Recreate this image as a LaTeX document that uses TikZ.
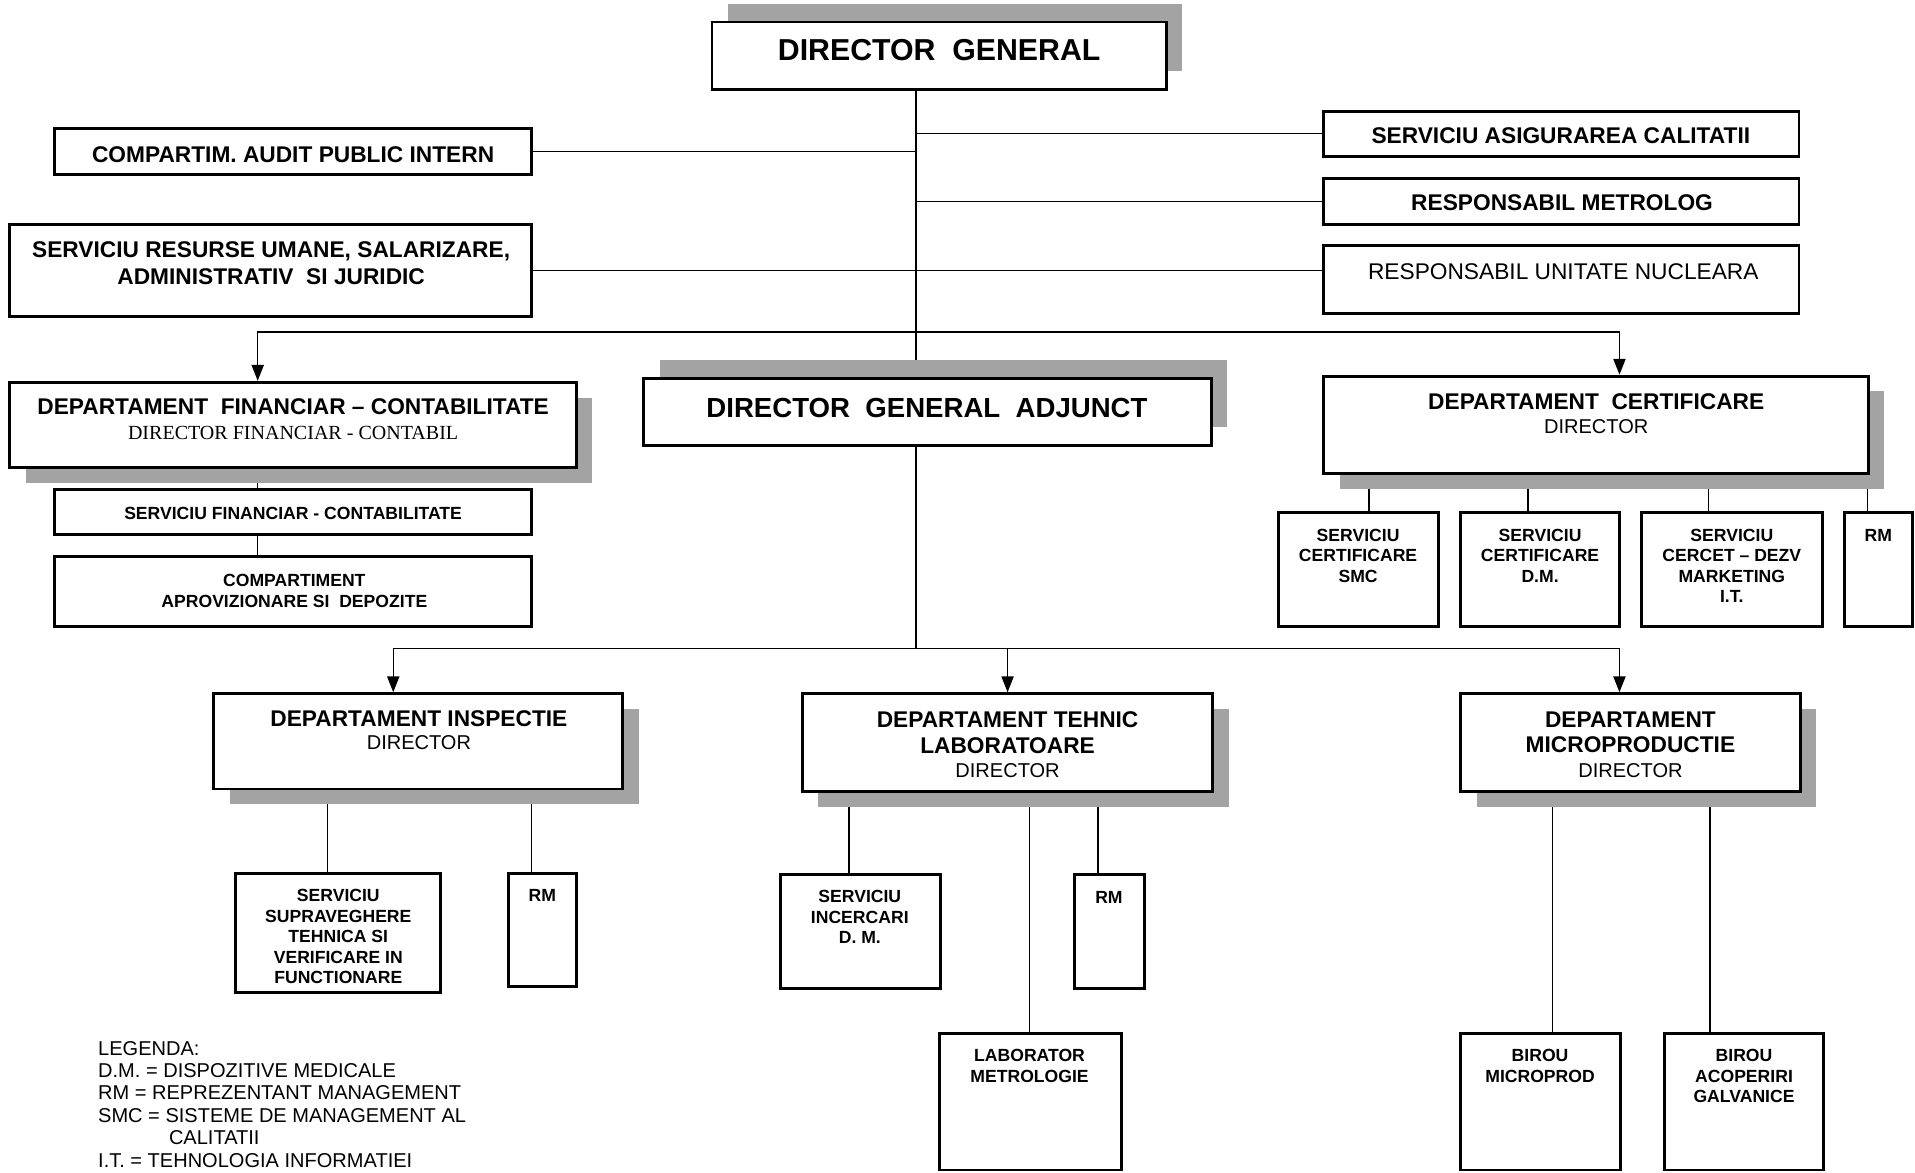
\documentclass[tikz,border=0pt]{standalone}
\usepackage{fontspec}
\newfontfamily\arialf{Liberation Sans}
\newfontfamily\timesf{Liberation Serif}
\usetikzlibrary{arrows.meta,fit,shadows,backgrounds}
\definecolor{shadowgray}{RGB}{163,163,163}
\begin{document}
\begin{tikzpicture}[x=0.5pt,y=-0.5pt,
  box/.style={draw, line width=1.2pt, fill=white, inner sep=0pt, rectangle},
  shUR/.style={drop shadow={shadow xshift=6.5pt, shadow yshift=7.5pt, fill=shadowgray, opacity=1}},
  shDR/.style={drop shadow={shadow xshift=6.5pt, shadow yshift=-6.25pt, fill=shadowgray, opacity=1}},
  conn/.style={line width=0.6pt},
  arr/.style={line width=0.6pt, -{Triangle[length=6.5pt,width=5pt]}},
  tDG/.style={font=\arialf\bfseries\fontsize{12.4}{14}\selectfont, inner sep=0pt, anchor=north},
  tDGA/.style={font=\arialf\bfseries\fontsize{11.3}{13}\selectfont, inner sep=0pt, anchor=north},
  tB/.style={font=\arialf\bfseries\fontsize{9.3}{10.7}\selectfont, inner sep=0pt, align=center, anchor=north},
  tR/.style={font=\arialf\fontsize{9.3}{10.7}\selectfont, inner sep=0pt, align=center, anchor=north},
  tD/.style={font=\arialf\fontsize{8.2}{9.5}\selectfont, inner sep=0pt, align=center, anchor=north},
  tT/.style={font=\timesf\fontsize{8.2}{9.5}\selectfont, inner sep=0pt, align=center, anchor=north},
  tS/.style={font=\arialf\bfseries\fontsize{7.2}{8.4}\selectfont, inner sep=0pt, align=center, anchor=north},
  tL/.style={font=\arialf\fontsize{8.2}{9.2}\selectfont, inner sep=0pt, align=left, anchor=north west}
]
\useasboundingbox (0,0) rectangle (1568,960);

% ---------- boxes ----------
\node[box, shUR, fit={(583,18) (955,73)}] (dg) {};
\node[box, fit={(45,105) (435,143)}] (audit) {};
\node[box, fit={(8,184) (435,259)}] (hr) {};
\node[box, fit={(1084,91) (1473,128)}] (qa) {};
\node[box, fit={(1084,146) (1473,184)}] (metro) {};
\node[box, fit={(1084,201) (1473,257)}] (nuc) {};

\node[box, shDR, fit={(8,313) (472,383)}] (fin) {};
\node[box, fit={(45,401) (435,438)}] (sfc) {};
\node[box, fit={(45,456) (435,513)}] (cad) {};

\node[box, shUR, fit={(527,310) (992,365)}] (dga) {};

\node[box, shDR, fit={(1084,308) (1530,388)}] (cert) {};
\node[box, fit={(1047,420) (1178,513)}] (c1) {};
\node[box, fit={(1196,420) (1326,513)}] (c2) {};
\node[box, fit={(1344,420) (1492,513)}] (c3) {};
\node[box, fit={(1510,420) (1566,513)}] (c4) {};

\node[box, shDR, fit={(175,568) (510,646)}] (insp) {};
\node[box, fit={(193,715) (361,813)}] (ins1) {};
\node[box, fit={(416,715) (472,808)}] (ins2) {};

\node[box, shDR, fit={(657,568) (993,648)}] (teh) {};
\node[box, fit={(639,716) (770,809)}] (teh1) {};
\node[box, fit={(880,716) (937,809)}] (teh2) {};
\node[box, fit={(769,846) (918,958)}] (teh3) {};

\node[box, shDR, fit={(1196,568) (1474,648)}] (mic) {};
\node[box, fit={(1196,846) (1327,958)}] (mic1) {};
\node[box, fit={(1363,846) (1493,958)}] (mic2) {};

% ---------- junction coordinates ----------
\coordinate (tx) at (750,0);
\coordinate (j1) at (750,272);
\coordinate (j2) at (750,531);

% ---------- connectors (behind boxes) ----------
\begin{scope}[on background layer]
  \draw[conn] (dg.south -| tx) -- (dga.north -| tx);
  \draw[conn] (dga.south -| tx) -- (j2);
  \draw[conn] (audit.east) -- (audit.east -| tx);
  \draw[conn] (hr.east) -- (hr.east -| nuc.west);
  \draw[conn] (qa.west -| tx) -- (qa.west);
  \draw[conn] (metro.west -| tx) -- (metro.west);
  \draw[arr] (j1) -| (fin.north -| 211,0);
  \draw[arr] (j1) -| (cert.north -| 1326,0);
  \draw[conn] (fin.south -| 211,0) -- (sfc.north -| 211,0);
  \draw[conn] (sfc.south -| 211,0) -- (cad.north -| 211,0);
  \draw[conn] (cert.south -| 1121,0) -- (c1.north -| 1121,0);
  \draw[conn] (cert.south -| 1251,0) -- (c2.north -| 1251,0);
  \draw[conn] (cert.south -| 1399,0) -- (c3.north -| 1399,0);
  \draw[conn] (cert.south -| 1529,0) -- (c4.north -| 1529,0);
  \draw[arr] (j2) -| (insp.north -| 322,0);
  \draw[arr] (j2) -| (teh.north -| 825,0);
  \draw[arr] (j2) -| (mic.north -| 1326,0);
  \draw[conn] (insp.south -| 268,0) -- (ins1.north -| 268,0);
  \draw[conn] (insp.south -| 435,0) -- (ins2.north -| 435,0);
  \draw[conn] (teh.south -| 695,0) -- (teh1.north -| 695,0);
  \draw[conn] (teh.south -| 899,0) -- (teh2.north -| 899,0);
  \draw[conn] (teh.south -| 843,0) -- (teh3.north -| 843,0);
  \draw[conn] (mic.south -| 1271,0) -- (mic1.north -| 1271,0);
  \draw[conn] (mic.south -| 1400,0) -- (mic2.north -| 1400,0);
\end{scope}

% ---------- texts ----------
\node[tDG] (dgt) at (769,32) {DIRECTOR~~GENERAL};
\node[tB] (auditt) at (240,119.3) {COMPARTIM. AUDIT PUBLIC INTERN};
\node[tB, execute at begin node={\setlength{\baselineskip}{11pt}}] (hrt) at (222,197.3) {SERVICIU RESURSE UMANE, SALARIZARE,\\ADMINISTRATIV~~SI JURIDIC};
\node[tB] (qat) at (1278,104.3) {SERVICIU ASIGURAREA CALITATII};
\node[tB] (metrot) at (1279,159.3) {RESPONSABIL METROLOG};
\node[tR] (nuct) at (1280,215.3) {RESPONSABIL UNITATE NUCLEARA};

\node[tB] (fint) at (240,326.3) {DEPARTAMENT~~FINANCIAR \textendash\ CONTABILITATE};
\node[tT] (finsub) at (240,348.6) {DIRECTOR FINANCIAR - CONTABIL};
\node[tS] (sfct) at (240,414.8) {SERVICIU FINANCIAR - CONTABILITATE};
\node[tS] (cadt) at (241,469.8) {COMPARTIMENT\\APROVIZIONARE SI~~DEPOZITE};

\node[tDGA] (dgat) at (759,326) {DIRECTOR~~GENERAL~~ADJUNCT};

\node[tB] (certt) at (1307,322.3) {DEPARTAMENT~~CERTIFICARE};
\node[tD] (certd) at (1307,343.1) {DIRECTOR};
\node[tS] (c1t) at (1112,432.8) {SERVICIU\\CERTIFICARE\\SMC};
\node[tS] (c2t) at (1261,432.8) {SERVICIU\\CERTIFICARE\\D.M.};
\node[tS] (c3t) at (1418,432.8) {SERVICIU\\CERCET \textendash\ DEZV\\MARKETING\\I.T.};
\node[tS] (c4t) at (1538,432.8) {RM};

\node[tB] (inspt) at (343,581.3) {DEPARTAMENT INSPECTIE};
\node[tD] (inspd) at (343,602.1) {DIRECTOR};
\node[tS] (ins1t) at (277,727.8) {SERVICIU\\SUPRAVEGHERE\\TEHNICA SI\\VERIFICARE IN\\FUNCTIONARE};
\node[tS] (ins2t) at (444,727.8) {RM};

\node[tB, execute at begin node={\setlength{\baselineskip}{10.5pt}}] (teht) at (825,582.3) {DEPARTAMENT TEHNIC\\LABORATOARE};
\node[tD] (tehd) at (825,625.1) {DIRECTOR};
\node[tS] (teh1t) at (704,728.8) {SERVICIU\\INCERCARI\\D. M.};
\node[tS] (teh2t) at (908,729.8) {RM};
\node[tS] (teh3t) at (843,858.8) {LABORATOR\\METROLOGIE};

\node[tB, execute at begin node={\setlength{\baselineskip}{10.5pt}}] (mict) at (1335,582.3) {DEPARTAMENT\\MICROPRODUCTIE};
\node[tD] (micd) at (1335,625.1) {DIRECTOR};
\node[tS] (mic1t) at (1261,858.8) {BIROU\\MICROPROD};
\node[tS] (mic2t) at (1428,858.8) {BIROU\\ACOPERIRI\\GALVANICE};

\node[tL] (legend) at (80,852) {LEGENDA:\\D.M. = DISPOZITIVE MEDICALE\\RM = REPREZENTANT MANAGEMENT\\SMC = SISTEME DE MANAGEMENT AL\\\hspace*{29pt}CALITATII\\I.T. = TEHNOLOGIA INFORMATIEI};
\end{tikzpicture}
\end{document}
